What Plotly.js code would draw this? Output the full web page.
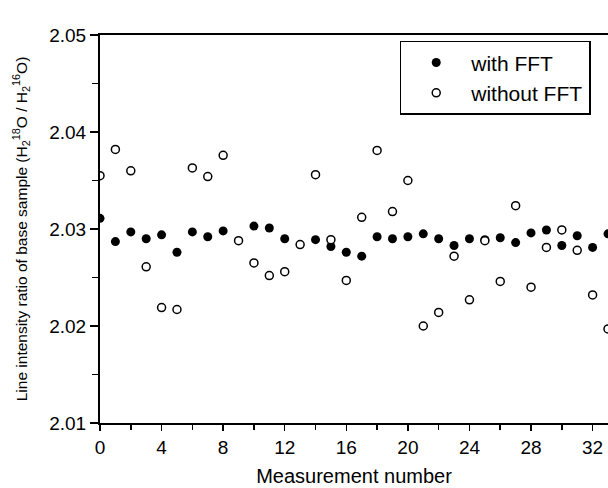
<!DOCTYPE html>
<html>
<head>
<meta charset="utf-8">
<script src="https://cdn.plot.ly/plotly-3.0.1.min.js"></script>
<style>html,body{margin:0;padding:0;background:#fff}#chart{width:608px;height:488px}</style>
</head>
<body>
<div id="chart"></div>
<script>
const measurement = [0,1,2,3,4,5,6,7,8,9,10,11,12,13,14,15,16,17,18,19,20,21,22,23,24,25,26,27,28,29,30,31,32,33];
const withFFT = [2.0311,2.0287,2.0297,2.0290,2.0294,2.0276,2.0297,2.0292,2.0298,null,2.0303,2.0301,2.0290,null,2.0289,2.0282,2.0276,2.0272,2.0292,2.0290,2.0292,2.0295,2.0290,2.0283,2.0290,2.0289,2.0291,2.0286,2.0296,2.0299,2.0283,2.0293,2.0281,2.0295];
const withoutFFT = [2.0355,2.0382,2.0360,2.0261,2.0219,2.0217,2.0363,2.0354,2.0376,2.0288,2.0265,2.0252,2.0256,2.0284,2.0356,2.0289,2.0247,2.0312,2.0381,2.0318,2.0350,2.0200,2.0214,2.0272,2.0227,2.0288,2.0246,2.0324,2.0240,2.0281,2.0299,2.0278,2.0232,2.0197];
const seriesNames = ["with FFT", "without FFT"];
const yTitle = "Line intensity ratio of base sample (H<sub>2</sub><sup>18</sup>O / H<sub>2</sub><sup>16</sup>O)";
const xTitle = "Measurement number";

const font = "'Liberation Sans', Arial, sans-serif";
const pad = "\u00a0".repeat(23);
const traces = [
  {x: measurement, y: withFFT, name: seriesNames[0], type: "scatter", mode: "markers",
   marker: {symbol: "circle", size: 9, color: "#000"}},
  {x: measurement, y: withoutFFT, name: seriesNames[1], type: "scatter", mode: "markers",
   marker: {symbol: "circle", size: 8, color: "#fff", line: {color: "#000", width: 1.5}}}
];
const layout = {
  width: 608, height: 488,
  margin: {l: 100, r: 0, t: 35, b: 65},
  paper_bgcolor: "#fff", plot_bgcolor: "#fff",
  font: {family: font, color: "#000", size: 18},
  showlegend: true,
  legend: {x: 0.59, y: 0.985, xanchor: "left", yanchor: "top",
    bordercolor: "#000", borderwidth: 1.5, bgcolor: "#fff",
    font: {family: font, size: 21}, itemwidth: 60, tracegroupgap: 0},
  xaxis: {range: [0, 33], dtick: 4, tick0: 0, ticks: "outside", ticklen: 6, tickwidth: 1.5, tickcolor: "#000",
    minor: {dtick: 2, ticks: "outside", ticklen: 5, tickwidth: 1.5, tickcolor: "#000"},
    showline: true, linecolor: "#000", linewidth: 2, mirror: true, showgrid: false, zeroline: false,
    tickfont: {size: 19}, title: {text: xTitle, font: {size: 20}, standoff: 12}},
  yaxis: {range: [2.01, 2.05], dtick: 0.01, tick0: 2.01, tickformat: ".2f", ticks: "outside", ticklen: 8, tickwidth: 1.5, tickcolor: "#000",
    minor: {dtick: 0.005, ticks: "outside", ticklen: 6, tickwidth: 1.5, tickcolor: "#000"},
    showline: true, linecolor: "#000", linewidth: 2, mirror: true, showgrid: false, zeroline: false,
    tickfont: {size: 19}, title: {text: pad + yTitle, font: {size: 15.5}, standoff: 18}}
};
Plotly.newPlot("chart", traces, layout, {displayModeBar: false, staticPlot: true});
</script>
</body>
</html>
